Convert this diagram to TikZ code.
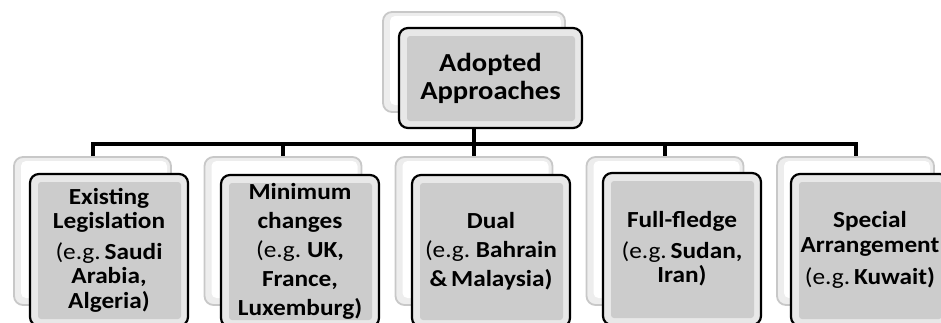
\documentclass[tikz,border=0pt]{standalone}
\usepackage{fontspec}
\setmainfont{Carlito}[FakeStretch=1.1]
\usetikzlibrary{calc}
\definecolor{shadowgray}{RGB}{200,200,200}
\definecolor{bevelgray}{RGB}{232,232,232}
\definecolor{facegray}{RGB}{204,204,204}
\tikzset{
	backbox/.style={draw=shadowgray, line width=1.8pt, fill=gray!14, rounded corners=9pt, inner sep=0pt,
		path picture={\fill[white, rounded corners=5pt] ([shift={(7pt,-4pt)}]path picture bounding box.north west) rectangle ([shift={(-4pt,7pt)}]path picture bounding box.south east);}},
	frontbox/.style={draw=black, line width=2.2pt, fill=bevelgray, rounded corners=9pt, inner sep=0pt, align=center,
		path picture={\fill[facegray, rounded corners=3pt] ([shift={(8pt,-8pt)}]path picture bounding box.north west) rectangle ([shift={(-7pt,7pt)}]path picture bounding box.south east);}},
	lowback/.style={backbox, minimum width=157pt, minimum height=148pt},
	lowfront/.style={frontbox, minimum width=158pt, minimum height=152pt, font=\fontsize{23}{24.5}\selectfont},
	conn/.style={line width=4pt, black}
}

\begin{document}
\begin{tikzpicture}[x=1pt, y=-1pt]
		%%%%% START %%%%%
		\clip (0, 0) rectangle (941, 322);
		
		\node[backbox, minimum width=182pt, minimum height=100pt] (tback) at (474, 62) {};
		\node[frontbox, minimum width=183pt, minimum height=100pt, font=\fontsize{26}{28}\selectfont] (top) at (490.5, 78) {\textbf{Adopted}\\\textbf{Approaches}};
		
		\node[lowback] (b1back) at (92.5, 231) {};
		\node[lowback] (b2back) at (283, 231) {};
		\node[lowback] (b3back) at (474, 231) {};
		\node[lowback] (b4back) at (665, 231) {};
		\node[lowback] (b5back) at (855.5, 231) {};
		
		\node[lowfront] (b1) at (109, 250) {\textbf{Existing}\\\textbf{Legislation}\\[6pt](e.g.\,\textbf{Saudi}\\\textbf{Arabia,}\\\textbf{Algeria)}};
		\node[lowfront, font=\fontsize{23}{29}\selectfont] (b2) at (300, 251) {\textbf{Minimum}\\\textbf{changes}\\(e.g.\ \textbf{UK,}\\\textbf{France,}\\\textbf{Luxemburg)}};
		\node[lowfront, font=\fontsize{23}{29}\selectfont] (b3) at (491, 251) {\textbf{Dual}\\(e.g.\ \textbf{Bahrain}\\\textbf{\&\,Malaysia)}};
		\node[lowfront] (b4) at (682, 249) {\textbf{Full-fledge}\\[6pt](e.g.\,\textbf{Sudan,}\\\textbf{Iran)}};
		\node[lowfront] (b5) at (870, 250) {\textbf{Special}\\\textbf{Arrangement}\\[8pt](e.g.\,\textbf{Kuwait)}};
		
		\coordinate (bus) at (474, 144);
		\draw[conn] (tback.south |- top.south) -- (bus);
		\draw[conn] (b1back.north) |- (bus) -| (b5back.north);
		\draw[conn] (bus -| b2back.north) -- (b2back.north);
		\draw[conn] (bus -| b3back.north) -- (b3back.north);
		\draw[conn] (bus -| b4back.north) -- (b4back.north);
		
		%%%%% END %%%%%
\end{tikzpicture}
\end{document}
